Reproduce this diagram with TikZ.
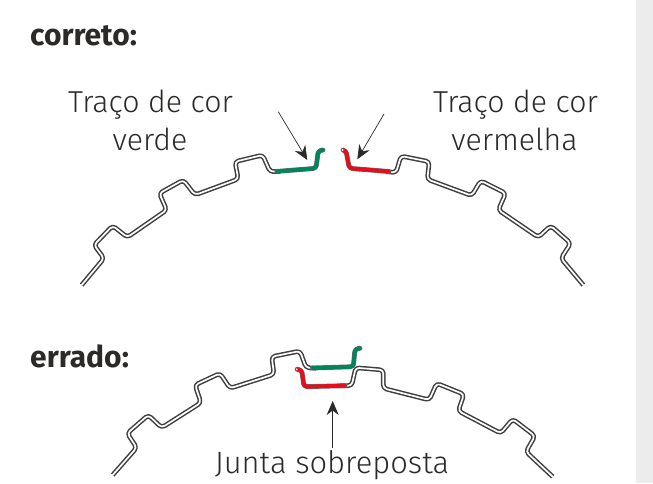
\documentclass[tikz,border=0pt]{standalone}
\usepackage{fontspec}
\setmainfont{Fira Sans Light}
\newfontfamily\boldlabel{Fira Sans}[BoldFont={* Bold}]
\usetikzlibrary{arrows.meta}
\definecolor{inkdark}{HTML}{2B2A29}
\definecolor{seamgreen}{HTML}{00845C}
\definecolor{seamred}{HTML}{E30F1E}
\definecolor{panelgray}{HTML}{ECECEC}
\tikzset{
  seam/.style={draw=inkdark!90,double=white,double distance=1.7pt,line width=1.5pt,rounded corners=3.5pt,line join=round},
  edgeband/.style={draw=inkdark!70,line width=4.8pt,rounded corners=3pt,line join=round,line cap=round},
  greenband/.style={draw=seamgreen,line width=3.9pt,rounded corners=3pt,line join=round,line cap=round},
  redband/.style={draw=seamred,line width=3.9pt,rounded corners=3pt,line join=round,line cap=round},
  callout/.style={draw=inkdark,line width=0.7pt,-{Stealth[length=14pt,width=12pt]}},
  labeltext/.style={text=inkdark,font=\fontsize{30.3}{30}\selectfont,anchor=base,inner sep=0pt},
  headtext/.style={text=inkdark,font=\boldlabel\bfseries\fontsize{30}{30}\selectfont,anchor=base west,inner sep=0pt}
}
\begin{document}
\begin{tikzpicture}[x=1pt,y=-1pt]
\useasboundingbox (0,0) rectangle (653,483);
\fill[panelgray] (636,0) rectangle (653,483);
% upper left profile
\draw[seam] (81.7,285) -- (104,258.3) -- (94,245) -- (112.7,225.7) -- (127.3,237.3) -- (166.7,210) -- (159.3,193.3) -- (183.3,180) -- (195,195) -- (238.3,179) -- (235,161.7) -- (262.7,155) -- (270,171.7) -- (280,171.4);
\draw[edgeband] (277,171.4) -- (316,168.3) -- (318.3,150.7) -- (323,150);
\draw[greenband] (277,171.4) -- (316,168.3) -- (318.3,150.7) -- (323,150);
% upper right profile
\draw[seam] (386,171.4) -- (396,172.7) -- (401,156) -- (429.3,161.7) -- (427.3,179.3) -- (471.7,195.7) -- (480.7,180.7) -- (505.7,193.3) -- (498.3,210) -- (538.3,237.3) -- (550.7,225.7) -- (570.7,243.3) -- (561,258.3) -- (583.3,285);
\draw[edgeband] (343,150) -- (346,150.7) -- (349.3,168.3) -- (389,171.5);
\draw[redband] (343,150) -- (346,150.7) -- (349.3,168.3) -- (389,171.5);
\fill[white] (342.7,150) circle (1pt);
% lower profile
\draw[seam] (112.7,475) -- (136.7,447.7) -- (127.3,433.3) -- (148.3,415) -- (161.7,427.7) -- (201,402.7) -- (195,385) -- (220,373.3) -- (230,388.3) -- (274,374.3) -- (271.7,356.7) -- (300,351) -- (306,367.7) -- (316,368.2);
\draw[seam] (340,385.7) -- (351.7,385.7) -- (355.7,367.7) -- (383.3,370) -- (383.3,388.3) -- (429.3,400) -- (436.7,383.3) -- (464,394.3) -- (458.3,411) -- (500.7,433.3) -- (512.7,419) -- (535,436) -- (526,451.7) -- (552.7,476.7);
\draw[edgeband] (312.5,368) -- (353.3,366.7) -- (355,349) -- (360,348.3);
\draw[greenband] (312.5,368) -- (353.3,366.7) -- (355,349) -- (360,348.3);
\draw[edgeband] (297,369.3) -- (301.7,370) -- (304,386.7) -- (345,385.7);
\draw[redband] (297,369.3) -- (301.7,370) -- (304,386.7) -- (345,385.7);
\fill[white] (296.7,369.3) circle (1pt);
% labels
\node[headtext] (head1) at (30,45) {correto:};
\node[headtext] (head2) at (30,367) {errado:};
\node[labeltext] (gr1) at (150.5,112) {Traço de cor};
\node[labeltext] (gr2) at (150,150) {verde};
\node[labeltext] (rd1) at (515.5,112) {Traço de cor};
\node[labeltext] (rd2) at (514.5,150) {vermelha};
\node[labeltext,font=\fontsize{30.9}{31}\selectfont] (junta) at (332,473) {Junta sobreposta};
% callouts
\coordinate (a1s) at (278.3,111.7);
\coordinate (a1e) at (307.3,160);
\coordinate (a2s) at (384,114);
\coordinate (a2e) at (357.3,159.3);
\coordinate (a3s) at (332.7,448);
\coordinate (a3e) at (332.7,401);
\draw[callout] (a1s) -- (a1e);
\draw[callout] (a2s) -- (a2e);
\draw[callout] (a3s) -- (a3e);
\end{tikzpicture}
\end{document}
